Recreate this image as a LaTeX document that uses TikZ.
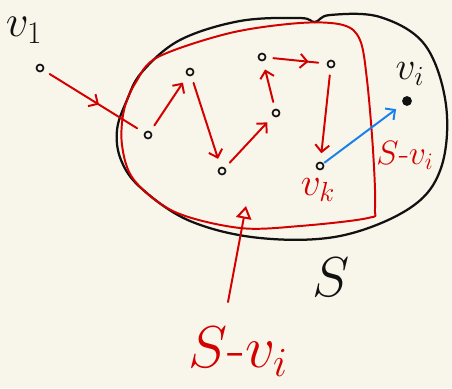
\RequirePackage{fix-cm}
\documentclass[tikz,border=0pt]{standalone}
\usetikzlibrary{arrows.meta, decorations.markings}
\definecolor{Paper}{HTML}{F8F6EA}
\definecolor{Pen}{HTML}{D40000}
\definecolor{Ink}{HTML}{111111}
\definecolor{Sky}{HTML}{1A80EC}
\tikzset{
    vtx/.style={circle, draw=Ink, fill=Paper, line width=1.2pt, inner sep=0pt, minimum size=5pt},
    bigvtx/.style={circle, fill=Ink, inner sep=0pt, minimum size=7pt},
    ink/.style={Ink, line width=1.6pt, line join=round},
    pen/.style={Pen, line width=1.4pt, line cap=round, line join=round},
    walk/.style={pen, -{Straight Barb[length=5pt, width=10pt]}, shorten >=6pt, shorten <=5pt},
    midwalk/.style={pen, shorten >=6pt, shorten <=5pt, postaction={decorate},
        decoration={markings, mark=at position #1 with {\arrow{Straight Barb[length=5pt, width=10pt]}}}},
    hand/.style={font=\fontsize{28}{30}\selectfont},
}

\begin{document}
\begin{tikzpicture}[x=0.025cm, y=-0.025cm]
    % paper
    \fill[Paper] (0,0) rectangle (452,388);
    \useasboundingbox (0,0) rectangle (452,388);

    % the set S
    \draw[ink] plot[smooth cycle, tension=0.6] coordinates {(127,100) (142,72) (180,40) (240,21) (300,18) (315,22) (330,15) (380,17) (425,45) (446,105) (441,168) (410,208) (340,236) (260,238) (190,221) (141,188) (121,160) (117,130)};

    % the part S - v_i
    \draw[pen] plot[smooth cycle, tension=0.55] coordinates {(124,110) (136,82) (158,57) (230,33) (300,23) (343,25) (360,40) (367,80) (373,150) (375,208) (368,218) (300,226) (240,228) (175,212) (134,180) (122,145)};

    % vertices
    \node[vtx] (v1) at (40,68) {};
    \node[vtx] (a) at (148,135) {};
    \node[vtx] (b) at (190,72) {};
    \node[vtx] (c) at (222,171) {};
    \node[vtx] (d) at (276,113) {};
    \node[vtx] (e) at (262,57) {};
    \node[vtx] (f) at (331,64) {};
    \node[vtx] (vk) at (320,166) {};
    \node[bigvtx] (vi) at (407,101) {};

    % walk through S - v_i
    \draw[midwalk=0.55] (v1) -- (a);
    \draw[walk] (a) -- (b);
    \draw[walk] (b) -- (c);
    \draw[walk] (c) -- (d);
    \draw[walk] (d) -- (e);
    \draw[midwalk=0.7] (e) -- (f);
    \draw[walk] (f) -- (vk);
    \draw[walk, Sky, shorten <=1pt] (vk) -- (vi);

    % labels
    \node[Ink, font=\fontsize{32}{34}\selectfont] (lv1) at (24,30) {$v_1$};
    \node[hand, Ink] (lvi) at (410,74) {$v_i$};
    \node[hand, Pen] (lvk) at (318,190) {$v_k$};
    \node[Pen, inner sep=1pt, font=\fontsize{24}{26}\selectfont] (lsmall) at (405,155) {$S$-$v_i$};
    \node[Ink, font=\fontsize{40}{42}\selectfont] (lS) at (331,277) {$S$};
    \node[Pen, font=\fontsize{42}{44}\selectfont] (lbig) at (238,352) {$S$-$v_i$};

    % pointer to S - v_i
    \coordinate (tail) at (228,302);
    \coordinate (tip) at (246,206);
    \draw[pen, -{Triangle[open, length=9pt, width=11pt]}] (tail) -- (tip);
\end{tikzpicture}
\end{document}
